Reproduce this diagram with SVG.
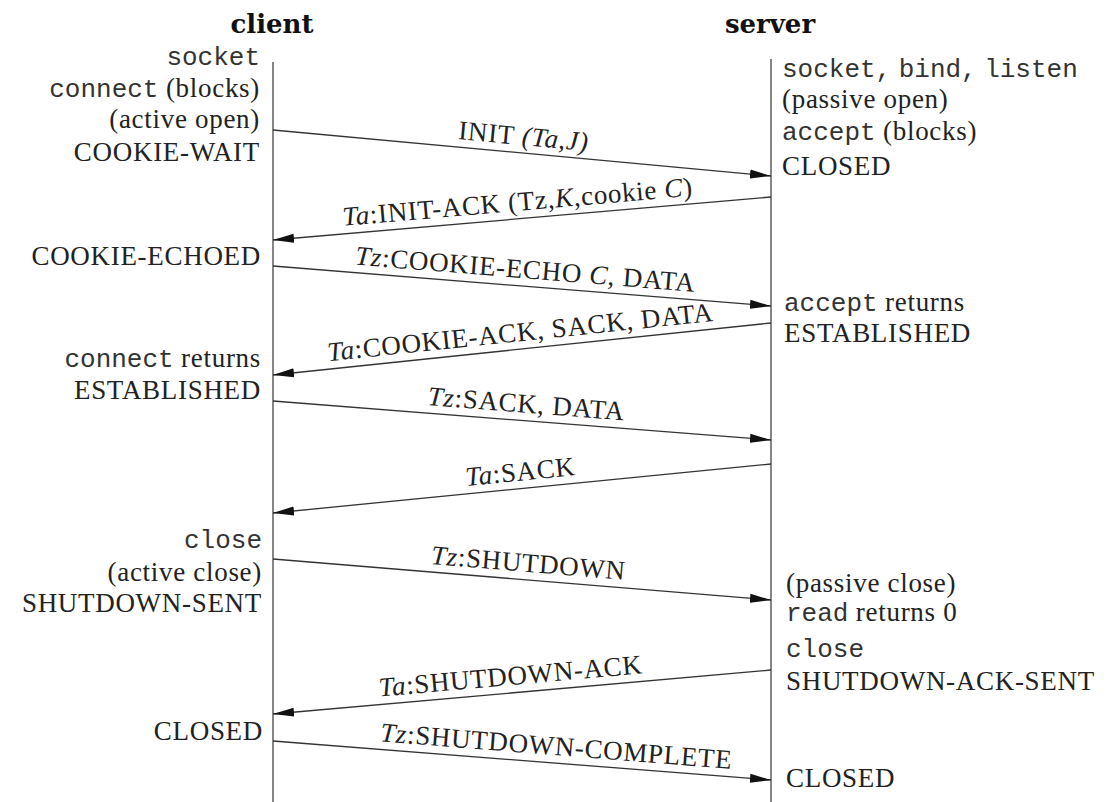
<svg xmlns="http://www.w3.org/2000/svg" width="1109" height="802" viewBox="0 0 1109 802">
  <style>
    .title { font-family: "DejaVu Serif", "Liberation Serif", serif; font-weight: bold; font-size: 26px; fill: #111; text-anchor: middle; }
    .st { font-family: "Liberation Serif", serif; font-size: 27px; fill: #222; letter-spacing: 0.7px; }
    .mono { font-family: "Liberation Mono", monospace; font-size: 26px; fill: #333; letter-spacing: 0; }
    .left { text-anchor: end; }
    .right { text-anchor: start; }
    .lbl { font-family: "Liberation Serif", serif; font-size: 27px; fill: #222; letter-spacing: 0.7px; text-anchor: middle; }
    .it { font-style: italic; }
    .life { stroke: #444; stroke-width: 1.3; fill: none; }
    .msg { stroke: #333; stroke-width: 1.3; fill: none; marker-end: url(#head); }
  </style>
  <defs>
    <marker id="head" markerUnits="userSpaceOnUse" markerWidth="22" markerHeight="10" refX="21" refY="5" orient="auto">
      <path d="M0,0.5 L21,5 L0,9.5 z" fill="#111"/>
    </marker>
  </defs>
  <rect width="1109" height="802" fill="#fff"/>

  <!-- client lifeline and its states -->
  <g id="client">
    <text class="title" x="272" y="33">client</text>
    <line class="life" x1="273" y1="62" x2="273" y2="802"/>
    <text class="st left" x="260" y="65"><tspan class="mono">socket</tspan></text>
    <text class="st left" x="260" y="97"><tspan class="mono">connect</tspan> (blocks)</text>
    <text class="st left" x="260" y="128">(active open)</text>
    <text class="st left" x="260" y="161">COOKIE-WAIT</text>
    <text class="st left" x="261" y="265">COOKIE-ECHOED</text>
    <text class="st left" x="261" y="367"><tspan class="mono">connect</tspan> returns</text>
    <text class="st left" x="261" y="399">ESTABLISHED</text>
    <text class="st left" x="262" y="548"><tspan class="mono">close</tspan></text>
    <text class="st left" x="262" y="581">(active close)</text>
    <text class="st left" x="262" y="612">SHUTDOWN-SENT</text>
    <text class="st left" x="263" y="740">CLOSED</text>
  </g>

  <!-- server lifeline and its states -->
  <g id="server">
    <text class="title" x="770" y="33">server</text>
    <line class="life" x1="771" y1="59" x2="771" y2="802"/>
    <text class="st right" x="782" y="77"><tspan class="mono">socket,</tspan> <tspan class="mono">bind,</tspan> <tspan class="mono">listen</tspan></text>
    <text class="st right" x="782" y="108">(passive open)</text>
    <text class="st right" x="782" y="140"><tspan class="mono">accept</tspan> (blocks)</text>
    <text class="st right" x="782" y="175">CLOSED</text>
    <text class="st right" x="784" y="311"><tspan class="mono">accept</tspan> returns</text>
    <text class="st right" x="784" y="342">ESTABLISHED</text>
    <text class="st right" x="786" y="592">(passive close)</text>
    <text class="st right" x="786" y="621"><tspan class="mono">read</tspan> returns 0</text>
    <text class="st right" x="786" y="657"><tspan class="mono">close</tspan></text>
    <text class="st right" x="786" y="690">SHUTDOWN-ACK-SENT</text>
    <text class="st right" x="786" y="787">CLOSED</text>
  </g>

  <!-- message arrows between the endpoints -->
  <g id="connectors">
    <line class="msg" x1="273" y1="130" x2="771" y2="176"/>
    <line class="msg" x1="771" y1="197" x2="273" y2="240"/>
    <line class="msg" x1="273" y1="266" x2="771" y2="306"/>
    <line class="msg" x1="771" y1="323" x2="273" y2="375"/>
    <line class="msg" x1="273" y1="401" x2="771" y2="440"/>
    <line class="msg" x1="771" y1="464" x2="273" y2="513"/>
    <line class="msg" x1="273" y1="559" x2="771" y2="600"/>
    <line class="msg" x1="771" y1="670" x2="273" y2="714"/>
    <line class="msg" x1="273" y1="741" x2="771" y2="780"/>
  </g>

  <!-- message labels, laid along each arrow -->
  <g id="labels">
    <text class="lbl" transform="translate(522,153) rotate(5.28)" y="-8">INIT <tspan class="it">(Ta,J)</tspan></text>
    <text class="lbl" transform="translate(519,218.7) rotate(-4.94)" y="-8"><tspan class="it">Ta</tspan>:INIT-ACK (Tz,<tspan class="it">K</tspan>,cookie <tspan class="it">C</tspan>)</text>
    <text class="lbl" transform="translate(524,286.2) rotate(4.59)" y="-8"><tspan class="it">Tz</tspan>:COOKIE-ECHO <tspan class="it">C</tspan>, DATA</text>
    <text class="lbl" transform="translate(522,349) rotate(-5.96)" y="-8"><tspan class="it">Ta</tspan>:COOKIE-ACK, SACK, DATA</text>
    <text class="lbl" transform="translate(525,420.7) rotate(4.48)" y="-8"><tspan class="it">Tz</tspan>:SACK, DATA</text>
    <text class="lbl" transform="translate(522,488.5) rotate(-5.62)" y="-8"><tspan class="it">Ta</tspan>:SACK</text>
    <text class="lbl" transform="translate(527,579.9) rotate(4.71)" y="-8"><tspan class="it">Tz</tspan>:SHUTDOWN</text>
    <text class="lbl" transform="translate(512,692.9) rotate(-5.05)" y="-8"><tspan class="it">Ta</tspan>:SHUTDOWN-ACK</text>
    <text class="lbl" transform="translate(555,763.1) rotate(4.48)" y="-8"><tspan class="it">Tz</tspan>:SHUTDOWN-COMPLETE</text>
  </g>
</svg>
